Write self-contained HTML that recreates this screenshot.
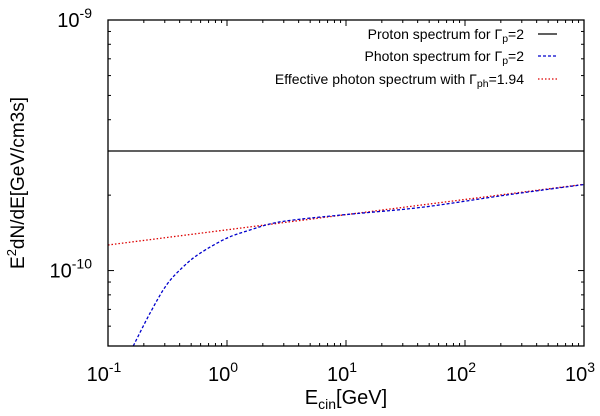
<!DOCTYPE html>
<html><head><meta charset="utf-8"><style>
html,body{margin:0;padding:0;background:#fff;}
svg{display:block;font-family:"Liberation Sans",sans-serif;}
</style></head><body>
<svg id="chart" width="600" height="416" viewBox="0 0 600 416">
<g id="marks"></g>
<g id="axes"></g>
<g font-size="14" fill="#000" text-anchor="end">
 <g>
  <text x="524" y="39">Proton spectrum for Γ<tspan font-size="10.5" dy="3">p</tspan><tspan dy="-3">=2</tspan></text>
  <line x1="538" y1="34" x2="557" y2="34" stroke="#000" stroke-width="1.2"/>
 </g>
 <g>
  <text x="524" y="61">Photon spectrum for Γ<tspan font-size="10.5" dy="3">p</tspan><tspan dy="-3">=2</tspan></text>
  <line x1="538" y1="56" x2="557" y2="56" stroke="#0000cc" stroke-width="1.2" stroke-dasharray="3,2"/>
 </g>
 <g>
  <text x="524" y="84">Effective photon spectrum with Γ<tspan font-size="10.5" dy="3">ph</tspan><tspan dy="-3">=1.94</tspan></text>
  <line x1="538" y1="79" x2="557" y2="79" stroke="#dd0000" stroke-width="1.2" stroke-dasharray="1.5,2"/>
 </g>
</g>
<text x="346" y="404" font-size="20" text-anchor="middle">E<tspan font-size="14" dy="5">cin</tspan><tspan dy="-5">[GeV]</tspan></text>
<text transform="translate(24,183) rotate(-90)" font-size="19" text-anchor="middle">E<tspan font-size="13" dy="-8">2</tspan><tspan dy="8">dN/dE[GeV/cm3s]</tspan></text>
</svg>
<script>
const xTickExps = [-1, 0, 1, 2, 3];
const yTickExps = [-10, -9];
const protonE = [0.1, 1000];
const protonFlux = [3.0e-10, 3.0e-10];
const photonE = [0.163, 0.2254, 0.311, 0.430, 0.593, 0.994, 1.56, 2.44, 4.10, 10.8, 44.4, 225, 1000];
const photonFlux = [5.0e-11, 6.76e-11, 8.77e-11, 1.037e-10, 1.172e-10, 1.346e-10, 1.452e-10, 1.545e-10, 1.603e-10, 1.679e-10, 1.791e-10, 2.004e-10, 2.205e-10];
const effE = [0.1, 1000];
const effFlux = [1.265e-10, 2.21e-10];

const L=108,R=584,T=20,B=346;
const xmin=-1,xmax=3,ymin=Math.log10(5e-11),ymax=-9;
const sx=v=>L+(Math.log10(v)-xmin)/(xmax-xmin)*(R-L);
const sy=v=>B-(Math.log10(v)-ymin)/(ymax-ymin)*(B-T);
const NS="http://www.w3.org/2000/svg";
const marks=document.getElementById('marks'), axes=document.getElementById('axes');
function mk(tag,attrs,parent){const e=document.createElementNS(NS,tag);for(const k in attrs)e.setAttribute(k,attrs[k]);parent.appendChild(e);return e;}
const clip=mk('clipPath',{id:'clp'},marks);mk('rect',{x:L,y:T,width:R-L,height:B-T},clip);
function series(xs,ys,color,dash,name,smooth){
  const pts=xs.map((x,i)=>[sx(x),sy(ys[i])]);
  let d='M'+pts[0][0].toFixed(2)+' '+pts[0][1].toFixed(2);
  if(smooth&&pts.length>2){
    for(let i=0;i<pts.length-1;i++){
      const p0=pts[Math.max(0,i-1)],p1=pts[i],p2=pts[i+1],p3=pts[Math.min(pts.length-1,i+2)];
      const c1=[p1[0]+(p2[0]-p0[0])/6,p1[1]+(p2[1]-p0[1])/6];
      const c2=[p2[0]-(p3[0]-p1[0])/6,p2[1]-(p3[1]-p1[1])/6];
      d+=' C'+c1[0].toFixed(2)+' '+c1[1].toFixed(2)+' '+c2[0].toFixed(2)+' '+c2[1].toFixed(2)+' '+p2[0].toFixed(2)+' '+p2[1].toFixed(2);
    }
  } else { for(let i=1;i<pts.length;i++) d+=' L'+pts[i][0].toFixed(2)+' '+pts[i][1].toFixed(2); }
  const p=mk('path',{d:d,fill:'none',stroke:color,'stroke-width':1.3,'clip-path':'url(#clp)'},marks);
  if(dash)p.setAttribute('stroke-dasharray',dash);
  
  
}
series(protonE,protonFlux,'#000',null,'proton-spectrum-line',false);
series(effE,effFlux,'#dd0000','1.5,2','effective-photon-line',false);
series(photonE,photonFlux,'#0000cc','3,2','photon-spectrum-line',true);
const fr=mk('rect',{x:L,y:T,width:R-L,height:B-T,fill:'none',stroke:'#000','stroke-width':1.3},axes);


xTickExps.forEach((e,i)=>{
  const x=sx(Math.pow(10,e));
  mk('line',{x1:x,y1:B,x2:x,y2:B-6,stroke:'#000'},axes);
  mk('line',{x1:x,y1:T,x2:x,y2:T+6,stroke:'#000'},axes);
  const t=mk('text',{x:x-4,y:381,'font-size':20,'text-anchor':'middle'},axes);
  
  
  t.innerHTML='10<tspan font-size="14" dy="-9">'+(e<0?'-':'')+Math.abs(e)+'</tspan>';
  if(i<xTickExps.length-1){for(let m=2;m<10;m++){const xm=sx(m*Math.pow(10,e));
    mk('line',{x1:xm,y1:B,x2:xm,y2:B-3,stroke:'#000'},axes);
    mk('line',{x1:xm,y1:T,x2:xm,y2:T+3,stroke:'#000'},axes);}}
});
yTickExps.forEach(e=>{
  const y=sy(Math.pow(10,e));
  mk('line',{x1:L,y1:y,x2:L+6,y2:y,stroke:'#000'},axes);
  mk('line',{x1:R,y1:y,x2:R-6,y2:y,stroke:'#000'},axes);
  const t=mk('text',{x:92,y:y+7,'font-size':20,'text-anchor':'end'},axes);
  
  
  t.innerHTML='10<tspan font-size="14" dy="-9">'+(e<0?'-':'')+Math.abs(e)+'</tspan>';
});
for(let e=-11;e<-9;e++){for(let m=2;m<10;m++){const v=m*Math.pow(10,e);
  if(v<5e-11-1e-20)continue;const y=sy(v);
  mk('line',{x1:L,y1:y,x2:L+3,y2:y,stroke:'#000'},axes);
  mk('line',{x1:R,y1:y,x2:R-3,y2:y,stroke:'#000'},axes);}}
</script>
</body></html>
